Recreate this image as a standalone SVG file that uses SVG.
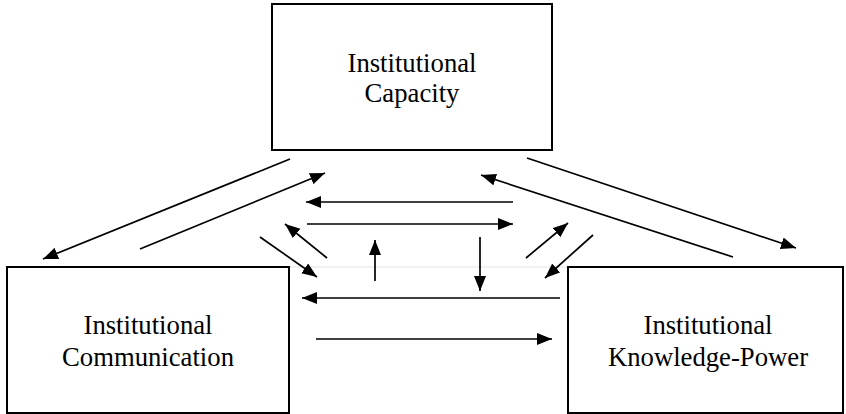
<svg xmlns="http://www.w3.org/2000/svg" width="846" height="414" viewBox="0 0 846 414">
<style>
.box{fill:#fff;stroke:#000;stroke-width:2}
.lbl{font-family:"Liberation Serif","Times New Roman",serif;font-size:26.7px;fill:#000;text-anchor:middle}
.arr{stroke:#000;stroke-width:1.7;fill:none;marker-end:url(#ah)}
</style>
<defs>
<marker id="ah" markerUnits="userSpaceOnUse" markerWidth="16" markerHeight="13" refX="15" refY="6" orient="auto">
<path d="M0,0 L15,6 L0,12 z" fill="#000"/>
</marker>
</defs>
<rect width="846" height="414" fill="#fff"/>
<line x1="289" y1="267" x2="568" y2="267" stroke="#e4e4ec" stroke-width="1"/>
<g id="capacity">
<rect class="box" x="272" y="4" width="280" height="146"/>
<text class="lbl" x="412" y="72">Institutional</text>
<text class="lbl" x="412" y="102">Capacity</text>
</g>
<g id="communication">
<rect class="box" x="7" y="267" width="282" height="146"/>
<text class="lbl" x="148" y="334">Institutional</text>
<text class="lbl" x="148" y="366">Communication</text>
</g>
<g id="knowledge-power">
<rect class="box" x="568" y="267" width="275" height="146"/>
<text class="lbl" x="708" y="334">Institutional</text>
<text class="lbl" x="708" y="366">Knowledge-Power</text>
</g>
<g id="connectors">
<line class="arr" x1="290" y1="159" x2="43" y2="259"/>
<line class="arr" x1="140" y1="249" x2="325" y2="173"/>
<line class="arr" x1="513" y1="202" x2="306" y2="202"/>
<line class="arr" x1="307" y1="224" x2="513" y2="224"/>
<line class="arr" x1="327" y1="258" x2="285" y2="224"/>
<line class="arr" x1="260" y1="237" x2="317" y2="277"/>
<line class="arr" x1="375" y1="281" x2="375" y2="240"/>
<line class="arr" x1="560" y1="298" x2="302" y2="298"/>
<line class="arr" x1="316" y1="339" x2="552" y2="339"/>
<line class="arr" x1="527" y1="158" x2="796" y2="248"/>
<line class="arr" x1="733" y1="257" x2="481" y2="175"/>
<line class="arr" x1="480" y1="237" x2="480" y2="291"/>
<line class="arr" x1="526" y1="258" x2="568" y2="223"/>
<line class="arr" x1="593" y1="235" x2="545" y2="278"/>
</g>
</svg>
